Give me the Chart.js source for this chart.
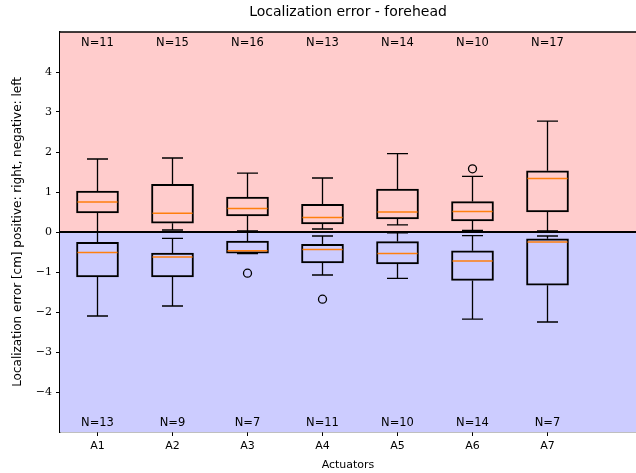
<!DOCTYPE html>
<html>
<head>
<meta charset="utf-8">
<script src="https://cdn.jsdelivr.net/npm/chart.js@4.4.0/dist/chart.umd.min.js"></script>
<style>
  html, body { margin: 0; padding: 0; background: #fff; }
  #wrap { width: 636px; height: 473px; }
</style>
</head>
<body>
<div id="wrap"><canvas id="myChart"></canvas></div>
<script>
"use strict";

const actuators = ["A1", "A2", "A3", "A4", "A5", "A6", "A7"];

// positive errors (right)
const posLow      = [0.01, 0.05, 0.03, 0.075, 0.18, 0.04, 0.03];
const posQ1       = [0.48, 0.22, 0.40, 0.20, 0.325, 0.275, 0.50];
const posMedian   = [0.75, 0.47, 0.59, 0.36, 0.50, 0.51, 1.34];
const posQ3       = [1.025, 1.19, 0.875, 0.69, 1.075, 0.76, 1.53];
const posHigh     = [1.825, 1.85, 1.47, 1.35, 1.96, 1.39, 2.77];
const posOutliers = [[], [], [], [], [], [1.58], []];
const posN        = [11, 15, 16, 13, 14, 10, 17];

// negative errors (left)
const negLow      = [-2.1, -1.85, -0.54, -1.075, -1.16, -2.18, -2.25];
const negQ1       = [-1.125, -1.125, -0.53, -0.775, -0.8, -1.21, -1.33];
const negMedian   = [-0.51, -0.625, -0.47, -0.44, -0.54, -0.725, -0.25];
const negQ3       = [-0.26, -0.525, -0.23, -0.31, -0.24, -0.47, -0.17];
const negHigh     = [-0.01, -0.16, -0.01, -0.1, -0.02, -0.09, -0.1];
const negOutliers = [[], [], [-1.03], [-1.68], [], [], []];
const negN        = [13, 9, 7, 11, 10, 14, 7];

const yTicks = [-4, -3, -2, -1, 0, 1, 2, 3, 4];

const series = [
  { low: posLow, q1: posQ1, med: posMedian, q3: posQ3, high: posHigh },
  { low: negLow, q1: negQ1, med: negMedian, q3: negQ3, high: negHigh }
];

function boxData(q1, q3) {
  return actuators.map((a, i) => ({ x: i + 1, y: [q1[i], q3[i]] }));
}
function outlierData() {
  const pts = [];
  actuators.forEach((a, i) => {
    posOutliers[i].forEach(v => pts.push({ x: i + 1, y: v }));
    negOutliers[i].forEach(v => pts.push({ x: i + 1, y: v }));
  });
  return pts;
}

const BOX_W = 42, CAP_W = 21;

const boxParts = {
  id: "boxParts",
  beforeDatasetsDraw(chart) {
    const { ctx, chartArea: a, scales: { y } } = chart;
    const y0 = y.getPixelForValue(0);
    ctx.save();
    ctx.fillStyle = "#ffcccc";
    ctx.fillRect(a.left, a.top, a.right - a.left, y0 - a.top);
    ctx.fillStyle = "#ccccff";
    ctx.fillRect(a.left, y0, a.right - a.left, a.bottom - y0);
    ctx.restore();
  },
  afterDatasetsDraw(chart) {
    const { ctx, chartArea: a, scales: { x, y } } = chart;
    ctx.save();
    ctx.lineWidth = 1.3;
    ctx.strokeStyle = "#000";
    series.forEach(s => {
      actuators.forEach((name, i) => {
        const px = x.getPixelForValue(i + 1);
        ctx.beginPath();
        ctx.moveTo(px, y.getPixelForValue(s.high[i]));
        ctx.lineTo(px, y.getPixelForValue(s.q3[i]));
        ctx.moveTo(px, y.getPixelForValue(s.q1[i]));
        ctx.lineTo(px, y.getPixelForValue(s.low[i]));
        ctx.moveTo(px - CAP_W / 2, y.getPixelForValue(s.high[i]));
        ctx.lineTo(px + CAP_W / 2, y.getPixelForValue(s.high[i]));
        ctx.moveTo(px - CAP_W / 2, y.getPixelForValue(s.low[i]));
        ctx.lineTo(px + CAP_W / 2, y.getPixelForValue(s.low[i]));
        ctx.stroke();
      });
    });

    // zero line
    const y0 = y.getPixelForValue(0);
    ctx.lineWidth = 2;
    ctx.beginPath();
    ctx.moveTo(a.left, y0);
    ctx.lineTo(a.right, y0);
    ctx.stroke();

    // medians
    ctx.strokeStyle = "#ff7f0e";
    ctx.lineWidth = 1.5;
    series.forEach(s => {
      actuators.forEach((name, i) => {
        const px = x.getPixelForValue(i + 1);
        const py = y.getPixelForValue(s.med[i]);
        ctx.beginPath();
        ctx.moveTo(px - BOX_W / 2 + 1, py);
        ctx.lineTo(px + BOX_W / 2 - 1, py);
        ctx.stroke();
      });
    });

    // N labels
    ctx.fillStyle = "#000";
    ctx.font = "11.5px 'DejaVu Sans'";
    ctx.textAlign = "center";
    ctx.textBaseline = "middle";
    actuators.forEach((name, i) => {
      const px = x.getPixelForValue(i + 1);
      ctx.fillText("N=" + posN[i], px, y.getPixelForValue(4.73));
      ctx.fillText("N=" + negN[i], px, y.getPixelForValue(-4.77));
    });

    // top spine
    ctx.strokeStyle = "#000";
    ctx.lineWidth = 1.3;
    ctx.beginPath();
    ctx.moveTo(a.left, a.top);
    ctx.lineTo(a.right, a.top);
    ctx.stroke();
    ctx.restore();
  }
};

const ctx = document.getElementById("myChart").getContext("2d");
const chart = new Chart(ctx, {
  type: "bar",
  data: {
    datasets: [
      {
        label: "positive",
        data: boxData(posQ1, posQ3),
        backgroundColor: "rgba(0,0,0,0)",
        borderColor: "#000",
        borderWidth: 1.3,
        borderSkipped: false,
        barThickness: BOX_W,
        grouped: false
      },
      {
        label: "negative",
        data: boxData(negQ1, negQ3),
        backgroundColor: "rgba(0,0,0,0)",
        borderColor: "#000",
        borderWidth: 1.3,
        borderSkipped: false,
        barThickness: BOX_W,
        grouped: false
      },
      {
        type: "scatter",
        label: "outliers",
        data: outlierData(),
        pointStyle: "circle",
        pointRadius: 4,
        borderColor: "#000",
        backgroundColor: "rgba(0,0,0,0)",
        borderWidth: 1.3
      }
    ]
  },
  options: {
    responsive: true,
    maintainAspectRatio: false,
    animation: false,
    layout: { padding: 0, autoPadding: false },
    plugins: {
      legend: { display: false },
      tooltip: { enabled: false },
      title: {
        display: true,
        text: "Localization error - forehead",
        fullSize: false,
        color: "#000",
        font: { family: "DejaVu Sans", size: 14, weight: "normal", lineHeight: 1.2 },
        padding: { top: 4, bottom: 11.2 }
      }
    },
    scales: {
      x: {
        type: "linear",
        min: 0.5,
        max: 8.18,
        offset: false,
        afterBuildTicks: s => { s.ticks = actuators.map((a, i) => ({ value: i + 1 })); },
        ticks: {
          callback: (v, idx) => actuators[idx],
          color: "#000",
          font: { family: "DejaVu Sans", size: 11 },
          padding: 4,
          maxRotation: 0,
          autoSkip: false
        },
        grid: { drawOnChartArea: false, offset: false, tickLength: 4, color: "#000", tickWidth: 1 },
        border: { color: "#000", width: 1.3 },
        title: {
          display: true,
          text: "Actuators",
          color: "#000",
          font: { family: "DejaVu Sans", size: 11, lineHeight: 1.2 },
          padding: { top: 0, bottom: 1.4 }
        },
        afterFit: s => {
          s.height = 41;
          s.paddingLeft = 0;
          s.paddingRight = 0;
        }
      },
      y: {
        min: -5,
        max: 5,
        afterBuildTicks: s => { s.ticks = yTicks.map(v => ({ value: v })); },
        ticks: {
          callback: v => (v < 0 ? "\u2212" + Math.abs(v) : String(v)),
          color: "#000",
          font: { family: "DejaVu Serif", size: 11 },
          padding: 4
        },
        grid: { drawOnChartArea: false, tickLength: 4, color: "#000", tickWidth: 1 },
        border: { color: "#000", width: 1.3 },
        title: {
          display: true,
          text: "Localization error [cm] positive: right, negative: left",
          color: "#000",
          font: { family: "DejaVu Sans", size: 12, lineHeight: 1.2 },
          padding: { top: 10.8, bottom: 0 }
        },
        afterFit: s => {
          s.width = 60;
          s.paddingTop = 0;
          s.paddingBottom = 0;
        }
      }
    }
  },
  plugins: [boxParts]
});
</script>
</body>
</html>
